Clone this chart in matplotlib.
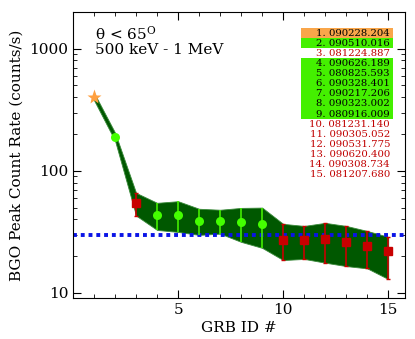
# coding: utf-8
import matplotlib
matplotlib.use("Agg")
import matplotlib.pyplot as plt
from matplotlib.patches import Rectangle
import numpy as np

plt.rcParams['font.family'] = ['DejaVu Serif']
plt.rcParams['mathtext.fontset'] = 'dejavuserif'

# GRB peak count rates (counts/s)
grb_id = np.arange(1, 16)
rate = [405, 190, 55, 43.5, 43.5, 39, 38.5, 38, 37, 27.2, 27.2, 27.8, 26.2, 24.4, 22.2]
rate_hi = [435, 205, 66, 54.7, 56.4, 48.9, 48, 49.7, 50, 36.8, 35.4, 37.5, 35.4, 32.2, 28.8]
rate_lo = [378, 176, 43, 32.8, 31.6, 29.9, 30.6, 26.2, 23.4, 18.6, 19, 17.7, 16.6, 15.9, 13]
threshold = 30

grb_names = ["090228.204", "090510.016", "081224.887", "090626.189", "080825.593",
             "090328.401", "090217.206", "090323.002", "080916.009", "081231.140",
             "090305.052", "090531.775", "090620.400", "090308.734", "081207.680"]
# 0 = orange, 1 = green, 2 = red
grb_class = [0, 1, 2, 1, 1, 1, 1, 1, 1, 2, 2, 2, 2, 2, 2]

fig = plt.figure(figsize=(4.15, 3.39), dpi=100)
ax = fig.add_axes([0.176, 0.121, 0.8, 0.844])

# band
ax.fill_between(grb_id, rate_lo, rate_hi, color="#005800", edgecolor="#3a8a3a", lw=0.6, zorder=1)

ax.axhline(threshold, color="#0a14e6", lw=2.8, dashes=(1.0, 1.0), zorder=2)

x = grb_id
r = np.array(rate); hi = np.array(rate_hi); lo = np.array(rate_lo)
cls = np.array(grb_class)

g = cls == 1
ax.errorbar(x[g][1:], r[g][1:], yerr=[r[g][1:] - lo[g][1:], hi[g][1:] - r[g][1:]],
            fmt="none", ecolor="#44ee00", elinewidth=1.2, zorder=3)
ax.plot(x[g], r[g], "o", color="#44ff00", ms=6.5, mec="none", zorder=4)

rd = cls == 2
ax.errorbar(x[rd], r[rd], yerr=[r[rd] - lo[rd], hi[rd] - r[rd]], fmt="s",
            color="#c80000", ms=6, ecolor="#c80000", elinewidth=1.2, capsize=1.5, zorder=4)

o = cls == 0
ax.plot(x[o], r[o], "*", color="#ffa040", ms=11, mec="none", zorder=5)

ax.set_yscale("log")
ax.set_xlim(0, 15.8)
ax.set_ylim(9.1, 2000)
ax.set_xticks([5, 10, 15])
ax.set_xticks(range(1, 16), minor=True)
ax.set_yticks([10, 100, 1000])
ax.set_yticklabels(["10", "100", "1000"])
ax.tick_params(which="both", direction="in", top=True, right=True, labelsize=11)
ax.tick_params(which="major", length=6)
ax.tick_params(which="minor", length=3)
ax.set_xlabel("GRB ID #", fontsize=11, labelpad=3)
ax.set_ylabel("BGO Peak Count Rate (counts/s)", fontsize=11, labelpad=4)

ax.text(0.065, 0.925, r"θ < 65$^\mathrm{O}$", transform=ax.transAxes, fontsize=11, va="center")
ax.text(0.065, 0.865, "500 keV - 1 MeV", transform=ax.transAxes, fontsize=11, va="center")

# list of GRBs
row_h = 10.1 / 286
y0 = (298 - 33.3) / 286
bg = {0: "#f9a64a", 1: "#44f000"}
for i, name in enumerate(grb_names):
    yc = y0 - i * row_h
    c = grb_class[i]
    if c in bg:
        ax.add_patch(Rectangle((0.687, yc - row_h / 2), 0.277, row_h, transform=ax.transAxes,
                               facecolor=bg[c], edgecolor="none", zorder=6))
    ax.text(0.955, yc, "%d. %s" % (i + 1, name), transform=ax.transAxes, ha="right",
            va="center", fontsize=7.3, color="black" if c in bg else "#c00000", zorder=7)

fig.savefig("out.png")
